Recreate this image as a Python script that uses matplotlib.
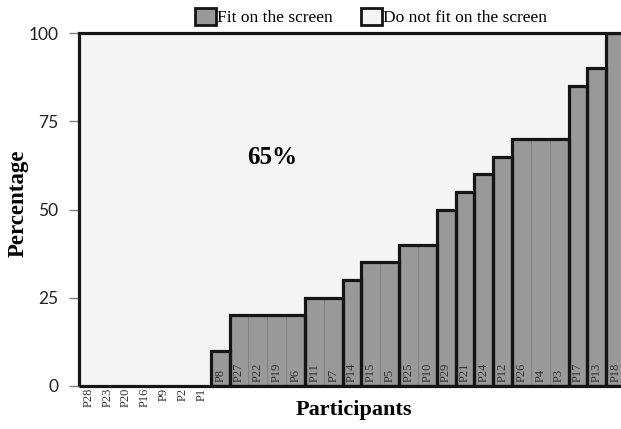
import matplotlib
matplotlib.use("Agg")
import matplotlib.pyplot as plt
from matplotlib.patches import Patch
import numpy as np

participants = ["P28", "P23", "P20", "P16", "P9", "P2", "P1", "P8", "P27", "P22",
                "P19", "P6", "P11", "P7", "P14", "P15", "P5", "P25", "P10", "P29",
                "P21", "P24", "P12", "P26", "P4", "P3", "P17", "P13", "P18"]
fit = [0, 0, 0, 0, 0, 0, 0, 10, 20, 20,
       20, 20, 25, 25, 30, 35, 35, 40, 40, 50,
       55, 60, 65, 70, 70, 70, 85, 90, 100]
y_ticks = [0, 25, 50, 75, 100]
legend_labels = ["Fit on the screen", "Do not fit on the screen"]
annotation = "65%"

FIT_C = "#999999"
NOFIT_C = "#f4f4f4"
EDGE = "#151515"
SERIF = "Liberation Serif"

fig = plt.figure(figsize=(6.21, 4.29), dpi=100)
ax = fig.add_axes([79/621, 43/429, 546/621, 353/429])

n = len(participants)
x = np.arange(n)
fit_arr = np.array(fit, dtype=float)

# not-fit area
ax.bar(x, 100 - fit_arr, bottom=fit_arr, width=1.0, color=NOFIT_C, edgecolor="none", zorder=1)
# fit bars with thin dividers
ax.bar(x, fit_arr, width=1.0, color=FIT_C, edgecolor="#808080", linewidth=0.7, zorder=2)

# group outlines for runs of equal values
i = 0
while i < n:
    j = i
    while j + 1 < n and fit[j + 1] == fit[i]:
        j += 1
    if fit[i] > 0:
        ax.bar(i - 0.5, fit[i], width=j - i + 1, align="edge", color="none",
               edgecolor=EDGE, linewidth=2.3, zorder=3)
    i = j + 1

# outer outline
ax.bar(-0.5, 100, width=n, align="edge", color="none", edgecolor=EDGE, linewidth=2.3, zorder=4,
       clip_on=False)

ax.set_xlim(-0.5, n - 0.5)
ax.set_ylim(0, 100)
for s in ax.spines.values():
    s.set_visible(False)
ax.set_xticks([])
ax.set_yticks(y_ticks)
ax.tick_params(axis="y", length=7, width=1, color="#808080", pad=8)
for lab in ax.get_yticklabels():
    lab.set_fontfamily("Lato")
    lab.set_fontsize(12.5)
    lab.set_color("#222222")

# participant labels
for xi, (p, v) in enumerate(zip(participants, fit)):
    if v > 0:
        ax.text(xi, 1.0, p, rotation=90, ha="center", va="bottom", fontsize=9,
                family=SERIF, color="#333333", zorder=5)
    else:
        ax.text(xi, -0.6, p, rotation=90, ha="center", va="top", fontsize=9,
                family=SERIF, color="#333333", zorder=5, clip_on=False)

fig.text(272/621, 1 - 158/429, annotation, fontsize=18, fontweight="bold", family=SERIF,
         ha="center", va="center")

fig.text(18/621, 1 - 203/429, "Percentage", rotation=90, ha="center", va="center",
         fontsize=16.5, fontweight="bold", family=SERIF)
fig.text(354/621, 1 - 410/429, "Participants", ha="center", va="center",
         fontsize=16, fontweight="bold", family=SERIF)

handles = [Patch(facecolor=FIT_C, edgecolor=EDGE, linewidth=2),
           Patch(facecolor=NOFIT_C, edgecolor=EDGE, linewidth=2)]
fig.legend(handles, legend_labels, loc="center", bbox_to_anchor=(371/621, 1 - 17/429), ncol=2,
           frameon=False, prop={"family": SERIF, "size": 12.5}, handlelength=1.2,
           handleheight=1.2, handletextpad=0.05, columnspacing=1.65, borderaxespad=0)

fig.savefig("out.png", dpi=100)
